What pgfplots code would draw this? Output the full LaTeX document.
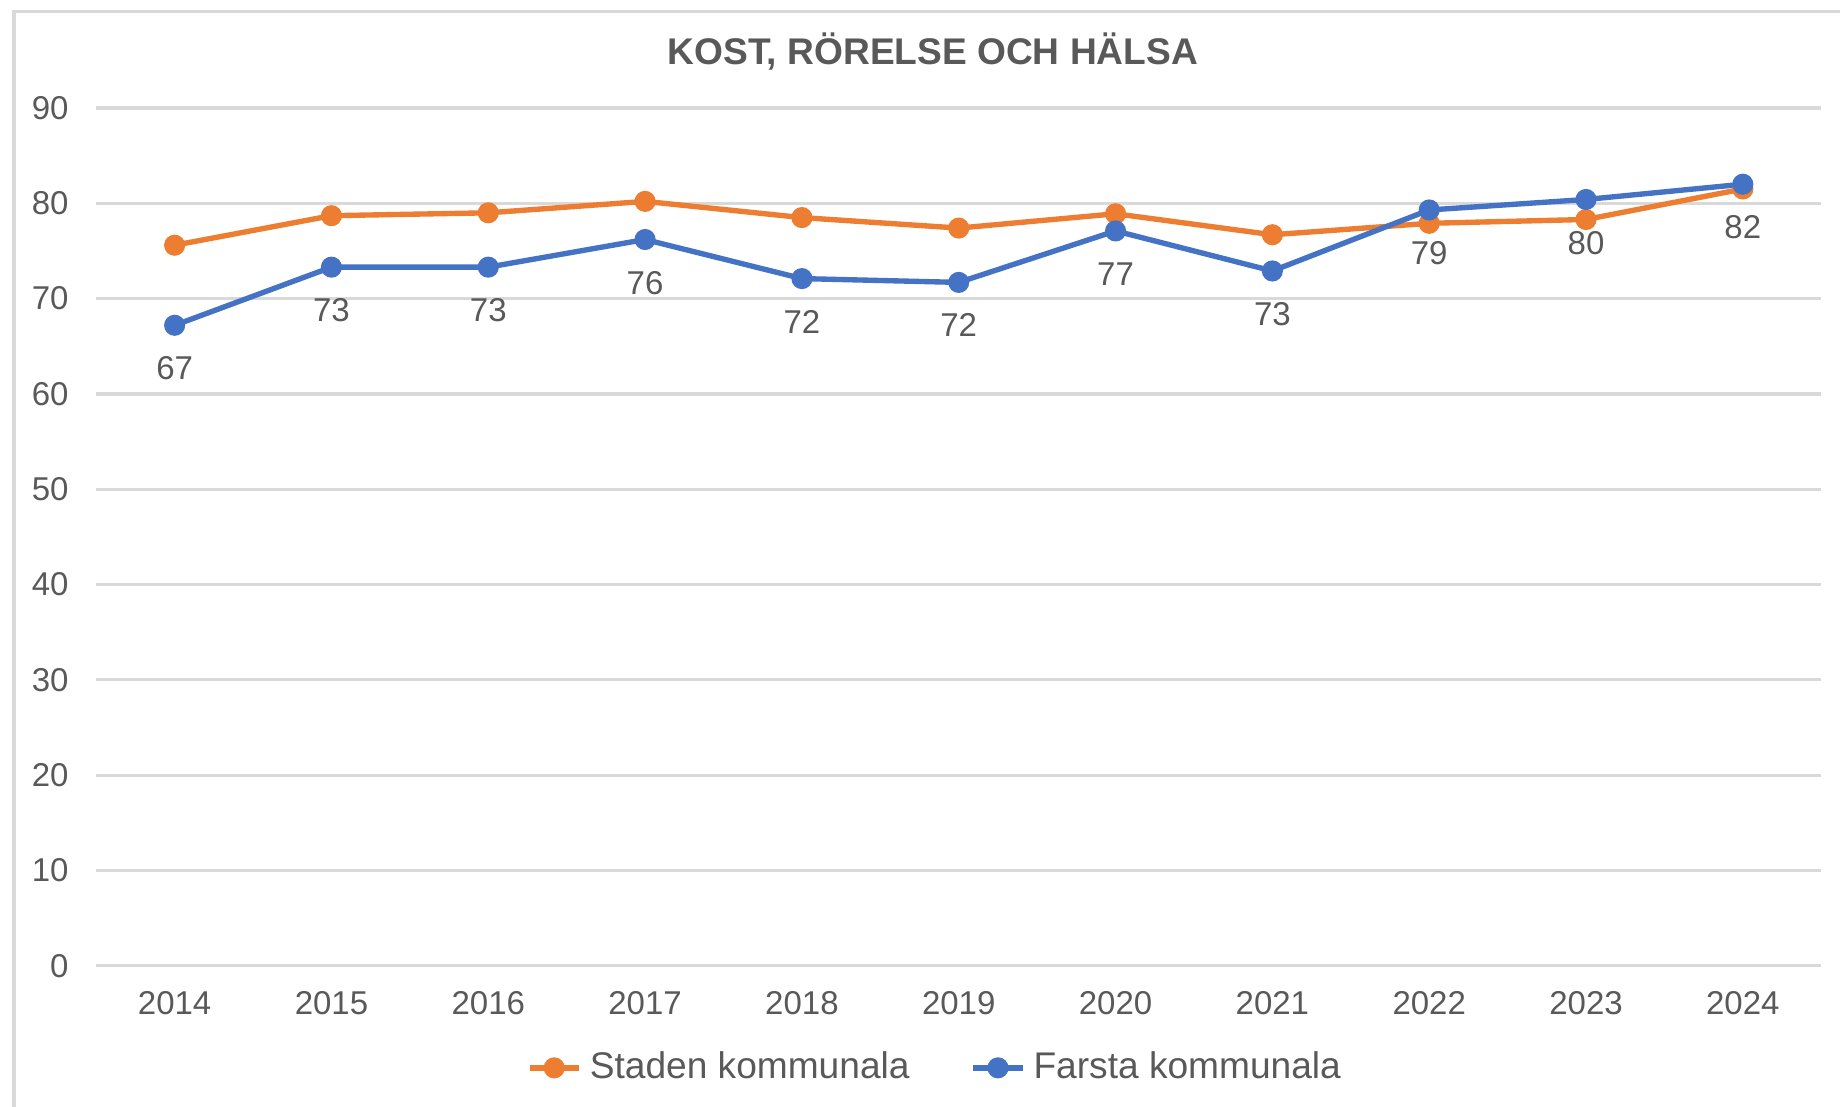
\documentclass[border=0pt]{standalone}
\usepackage{pgfplots}
\pgfplotsset{compat=1.18}
\usepackage{fontspec}
\setmainfont{Liberation Sans}
\definecolor{orangeS}{HTML}{ED7D31}
\definecolor{blueF}{HTML}{4472C4}
\definecolor{txt}{HTML}{595959}
\definecolor{gridc}{HTML}{D9D9D9}
\begin{document}
\begin{tikzpicture}
\begin{axis}[
  at={(0,0)}, anchor=south west,
  scale only axis, width=14.70cm, height=7.31cm,
  xmin=-0.5, xmax=10.5, ymin=0, ymax=90,
  xtick={0,...,10},
  xticklabels={2014,2015,2016,2017,2018,2019,2020,2021,2022,2023,2024},
  ytick={0,10,...,90},
  ymajorgrids, grid style={gridc, line width=0.8pt},
  axis line style={draw=none},
  major tick length=0pt,
  /pgf/number format/assume math mode=true,
  tick label style={font=\fontsize{8}{9.6}\selectfont, text=txt},
  xticklabel style={anchor=north, inner sep=0pt, yshift=-6pt},
  yticklabel style={anchor=east, inner sep=0pt, xshift=-6.5pt},
  legend style={draw=none, fill=none, at={(0.488,-0.119)}, anchor=center,
    font=\fontsize{9}{11}\selectfont, text=txt,
    /tikz/every even column/.append style={column sep=0.45cm},
    inner sep=0pt},
  legend columns=2,
  legend image code/.code={\draw[mark repeat=2,mark phase=2,#1] plot coordinates {(0cm,0cm) (0.21cm,0cm) (0.42cm,0cm)};},
]
\addplot[orangeS, line width=1.3pt, mark=*, mark size=1.9pt, mark options={fill=orangeS}]
  coordinates {(0,75.6) (1,78.7) (2,79.0) (3,80.2) (4,78.5) (5,77.4) (6,78.9) (7,76.7) (8,77.9) (9,78.3) (10,81.5)};
\addlegendentry{Staden kommunala}
\addplot[blueF, line width=1.3pt, mark=*, mark size=1.9pt, mark options={fill=blueF},
  nodes near coords={\pgfmathprintnumber[fixed,precision=0]{\pgfplotspointmeta}},
  point meta=y,
  every node near coord/.append style={anchor=north, inner sep=0pt, yshift=-7pt, text=txt, font=\fontsize{8}{9.6}\selectfont}]
  coordinates {(0,67.2) (1,73.3) (2,73.3) (3,76.2) (4,72.1) (5,71.7) (6,77.1) (7,72.9) (8,79.3) (9,80.4) (10,82.0)};
\addlegendentry{Farsta kommunala}
\end{axis}
\node[anchor=center, text=txt, font=\bfseries\fontsize{9}{11}\selectfont] at (7.13,7.79) {KOST, RÖRELSE OCH HÄLSA};
\draw[gridc, line width=0.8pt] (-0.70,-1.25) -- (-0.70,8.13) -- (15.0,8.13);
\pgfresetboundingbox
\path[use as bounding box] (-0.82,-1.20) rectangle (14.86,8.23);
\end{tikzpicture}
\end{document}
